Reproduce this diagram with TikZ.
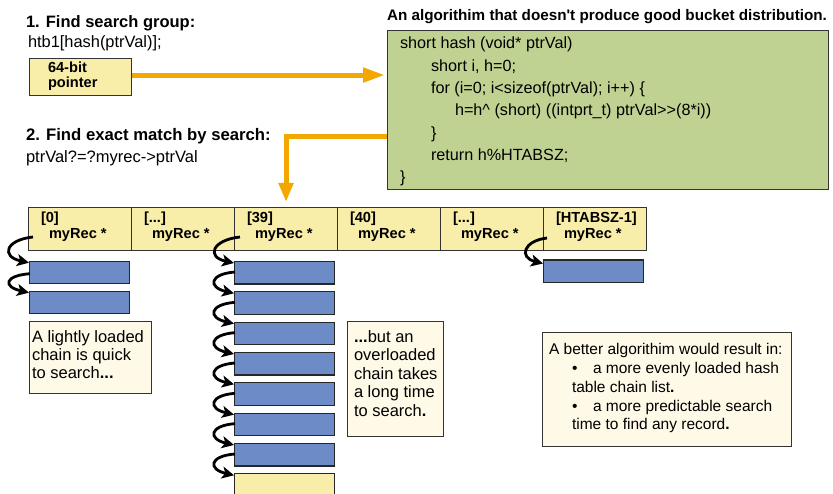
\documentclass[tikz,border=0pt]{standalone}
\usepackage{fontspec}
\setmainfont{Liberation Sans}
\usetikzlibrary{arrows.meta}
\definecolor{cellyel}{HTML}{F9EDAA}
\definecolor{recblue}{HTML}{6D8CC7}
\definecolor{codegreen}{HTML}{C0D292}
\definecolor{notecream}{HTML}{FFF9E8}
\definecolor{arroworange}{HTML}{F2A800}
\definecolor{edgegray}{HTML}{333333}
\newcommand\fsz[1]{\fontsize{#1}{#1}\selectfont}
\begin{document}
\begin{tikzpicture}[x=1pt,y=-1pt,
  txt/.style={anchor=base west, inner sep=0pt, outer sep=0pt},
  cellbox/.style={draw=edgegray, line width=1.1pt, fill=cellyel, anchor=north west, inner sep=0pt, minimum width=103pt, minimum height=43pt},
  recbox/.style={draw=black!85, line width=1.1pt, fill=recblue, anchor=north west, inner sep=0pt, minimum width=100pt, minimum height=22.5pt},
  lastbox/.style={recbox, fill=cellyel},
  notebox/.style={draw=edgegray, line width=1.1pt, fill=notecream, anchor=north west, inner sep=0pt},
  codebox/.style={draw=edgegray, line width=1.4pt, fill=codegreen, anchor=north west, inner sep=0pt, minimum width=441pt, minimum height=159pt},
  cellfont/.style={font=\fsz{14.6}\bfseries},
  codefont/.style={font=\fsz{16.2}},
  notefont/.style={font=\fsz{16.5}},
  betterfont/.style={font=\fsz{15.5}},
  orangearrow/.style={draw=arroworange, line width=5pt, -{Triangle[length=22pt,width=14pt]}},
  chainarrow/.style={draw=black, line width=2.8pt, -{Stealth[length=12pt,width=12pt,inset=3pt]}}
]
\useasboundingbox (0,0) rectangle (833,494);
\clip (0,0) rectangle (833,494);

% ---- headings ----
\node[txt,font=\fsz{16.5}\bfseries] (h1) at (26,27.5) {1. Find search group:};
\node[txt,font=\fsz{16.4}] (h1b) at (28,48) {htb1[hash(ptrVal)];};
\node[txt,font=\fsz{16.7}\bfseries] (h2) at (26,141) {2. Find exact match by search:};
\node[txt,font=\fsz{16.5}] (h2b) at (26,162.3) {ptrVal?=?myrec->ptrVal};
\node[txt,font=\fsz{15.25}\bfseries] (title) at (387,21) {An algorithim that doesn\textquotesingle t produce good bucket distribution.};

% ---- pointer box ----
\node[cellbox, minimum width=102pt, minimum height=37pt] (ptr) at (29,58) {};
\node[txt,cellfont] (ptr1) at (48,72.7) {64-bit};
\node[txt,cellfont] (ptr2) at (48,87.3) {pointer};

% ---- code box ----
\node[codebox] (code) at (387,30) {};
\node[txt,codefont] (cl1) at (400,49) {short hash (void* ptrVal)};
\node[txt,codefont] (cl2) at (431,71.3) {short i, h=0;};
\node[txt,codefont] (cl3) at (431,93.6) {for (i=0; i<sizeof(ptrVal); i++) \{};
\node[txt,codefont] (cl4) at (455,115.9) {h=h\textasciicircum{} (short) ((intprt\_t) ptrVal>{}>(8*i))};
\node[txt,codefont] (cl5) at (431,138.2) {\}};
\node[txt,codefont] (cl6) at (431,160.5) {return h\%HTABSZ;};
\node[txt,codefont] (cl7) at (400,182.8) {\}};

% ---- hash table cells ----
\node[cellbox] (c0) at (28,207) {};
\node[cellbox] (c1) at (131,207) {};
\node[cellbox] (c39) at (234,207) {};
\node[cellbox] (c40) at (337,207) {};
\node[cellbox] (c4) at (440,207) {};
\node[cellbox] (cN) at (543,207) {};
\foreach \c/\lab in {c0/{[0]}, c1/{[...]}, c39/{[39]}, c40/{[40]}, c4/{[...]}, cN/{[HTABSZ-1]}}{
  \node[txt,cellfont] (\c-idx) at ([xshift=13pt,yshift=-16pt]\c.north west) {\lab};
  \node[txt,cellfont] (\c-ptr) at ([xshift=21pt,yshift=-32pt]\c.north west) {myRec *};
}

% ---- orange arrows ----
\coordinate (a1) at ([yshift=2pt]ptr.east);
\draw[orangearrow, shorten >=2pt] (a1) -- (a1 -| code.west);
\coordinate (b0) at ([yshift=-107pt]code.north west);
\coordinate (b1) at (b0 -| c39.north);
\draw[orangearrow, -{Triangle[length=19pt,width=14pt]}, shorten >=5pt] (b0) -- (b1) -- (c39.north);

% ---- chains ----
\node[recbox] (l1) at (29,260.7) {};
\node[recbox] (l2) at (29,290.7) {};
\foreach \k [evaluate=\k as \yy using 261+30.33*(\k-1)] in {1,...,7}{
  \node[recbox] (m\k) at (234,\yy) {};
}
\node[lastbox, minimum height=30pt] (m8) at (234,473.3) {};
\node[recbox] (r1) at (543,259.5) {};

\draw[chainarrow] ([xshift=5pt,yshift=-30pt]c0.north west) .. controls +(-28,3) and +(-28,-6) .. ([yshift=-2pt]l1.north west);
\draw[chainarrow] ([xshift=1pt,yshift=-13pt]l1.north west) .. controls +(-26,2) and +(-26,-6) .. ([yshift=-2pt]l2.north west);
\draw[chainarrow] ([xshift=6pt,yshift=-30pt]c39.north west) .. controls +(-28,3) and +(-28,-6) .. ([yshift=-2pt]m1.north west);
\foreach \a/\b in {m1/m2, m2/m3, m3/m4, m4/m5, m5/m6, m6/m7, m7/m8}{
  \draw[chainarrow] ([xshift=1pt,yshift=-11pt]\a.north west) .. controls +(-26,2) and +(-26,-6) .. ([yshift=-2pt]\b.north west);
}
\draw[chainarrow] ([xshift=4pt,yshift=-31pt]cN.north west) .. controls +(-24,3) and +(-24,-6) .. ([yshift=-4pt]r1.north west);

% ---- notes ----
\node[notebox, minimum width=122pt, minimum height=72pt] (light) at (29,321) {};
\node[txt,notefont] (lt1) at (32,342.3) {A lightly loaded};
\node[txt,notefont] (lt2) at (32,360.3) {chain is quick};
\node[txt,notefont] (lt3) at (32,378.3) {to search\textbf{...}};

\node[notebox, minimum width=96pt, minimum height=115pt] (over) at (347,321) {};
\node[txt,notefont] (ov1) at (354,342.7) {\textbf{...}but an};
\node[txt,notefont] (ov2) at (354,361) {overloaded};
\node[txt,notefont] (ov3) at (354,379.3) {chain takes};
\node[txt,notefont] (ov4) at (354,397.6) {a long time};
\node[txt,notefont] (ov5) at (354,416) {to search\textbf{.}};

\node[notebox, minimum width=249pt, minimum height=114pt] (better) at (542,332) {};
\node[txt,betterfont] (bt1) at (549,355) {A better algorithim would result in:};
\node[txt,betterfont] (bt2a) at (572,373.7) {\textbullet};
\node[txt,betterfont] (bt2) at (593,373.7) {a more evenly loaded hash};
\node[txt,betterfont] (bt3) at (572,392.4) {table chain list\textbf{.}};
\node[txt,betterfont] (bt4a) at (572,411.1) {\textbullet};
\node[txt,betterfont] (bt4) at (593,411.1) {a more predictable search};
\node[txt,betterfont] (bt5) at (572,429.8) {time to find any record\textbf{.}};
\end{tikzpicture}
\end{document}
